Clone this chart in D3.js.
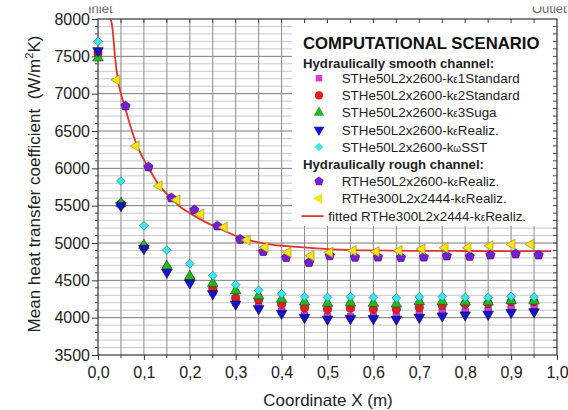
<!DOCTYPE html>
<html>
<head>
<meta charset="utf-8">
<script src="https://d3js.org/d3.v7.min.js"></script>
<style>
  html, body { margin: 0; padding: 0; background: #fff; }
  svg { display: block; font-family: "Liberation Sans", Arial, sans-serif; }
</style>
</head>
<body>
<svg id="chart" width="568" height="410"></svg>
<script>
// ---------------- data ----------------
const xTickValues = [0, 0.1, 0.2, 0.3, 0.4, 0.5, 0.6, 0.7, 0.8, 0.9, 1.0];
const xTickLabels = ["0,0", "0,1", "0,2", "0,3", "0,4", "0,5", "0,6", "0,7", "0,8", "0,9", "1,0"];
const yTickValues = [3500, 4000, 4500, 5000, 5500, 6000, 6500, 7000, 7500, 8000];

const xSmooth = [0, 0.05, 0.1, 0.15, 0.2, 0.25, 0.3, 0.35, 0.4, 0.45, 0.5, 0.55, 0.6, 0.65, 0.7, 0.75, 0.8, 0.85, 0.9, 0.95];
const kE1Standard = [7540, 5515, 4940, 4650, 4500, 4345, 4205, 4150, 4085, 4036, 4013, 4013, 4013, 4020, 4050, 4075, 4080, 4100, 4120, 4125];
const kE2Standard = [7545, 5522, 4950, 4660, 4515, 4393, 4263, 4240, 4183, 4134, 4112, 4125, 4112, 4112, 4139, 4165, 4183, 4190, 4215, 4215];
const kE3Suga     = [7478, 5530, 4968, 4688, 4553, 4460, 4359, 4292, 4248, 4210, 4192, 4201, 4192, 4183, 4215, 4215, 4210, 4210, 4228, 4223];
const kERealiz    = [7575, 5500, 4925, 4608, 4464, 4320, 4181, 4120, 4058, 4004, 3980, 3987, 3987, 3978, 4002, 4022, 4036, 4045, 4070, 4078];
const kwSST       = [7700, 5830, 5232, 4906, 4722, 4563, 4442, 4365, 4320, 4281, 4272, 4281, 4272, 4263, 4278, 4281, 4272, 4272, 4285, 4277];

const xRough50 = [0.06, 0.11, 0.16, 0.21, 0.26, 0.31, 0.36, 0.41, 0.46, 0.505, 0.56, 0.61, 0.66, 0.71, 0.76, 0.81, 0.855, 0.91, 0.96];
const rough50  = [6835, 6018, 5603, 5442, 5228, 5049, 4884, 4804, 4738, 4828, 4808, 4810, 4806, 4810, 4826, 4820, 4839, 4853, 4839];

const xRough300 = [0.041, 0.083, 0.133, 0.172, 0.224, 0.275, 0.325, 0.364, 0.414, 0.464, 0.505, 0.556, 0.606, 0.656, 0.706, 0.756, 0.806, 0.854, 0.902, 0.943];
const rough300  = [7183, 6299, 5763, 5576, 5388, 5210, 5040, 4942, 4875, 4830, 4875, 4897, 4884, 4897, 4918, 4937, 4937, 4962, 4982, 4982];

const xFit = [0.028, 0.032, 0.037, 0.043, 0.05, 0.06, 0.072, 0.084, 0.096, 0.109, 0.121, 0.133, 0.157, 0.179, 0.2, 0.222, 0.259, 0.309, 0.36, 0.44, 0.512, 0.6, 0.7, 0.8, 0.9, 0.987];
const fitVals = [8000, 7850, 7500, 7200, 7000, 6790, 6540, 6320, 6160, 6020, 5890, 5775, 5616, 5486, 5400, 5320, 5210, 5075, 4995, 4945, 4915, 4900, 4895, 4893, 4892, 4892];

const legendLabels = [
  ["STHe50L2x2600-k", "ε", "1Standard"],
  ["STHe50L2x2600-k", "ε", "2Standard"],
  ["STHe50L2x2600-k", "ε", "3Suga"],
  ["STHe50L2x2600-k", "ε", "Realiz."],
  ["STHe50L2x2600-k", "ω", "SST"],
  ["RTHe50L2x2600-k", "ε", "Realiz."],
  ["RTHe300L2x2444-k", "ε", "Realiz."],
  ["fitted RTHe300L2x2444-k", "ε", "Realiz."]
];

// ---------------- setup ----------------
const svg = d3.select("#chart");
const W = 568, H = 410;
const m = { left: 98, right: 11, top: 19, bottom: 55 };
const x = d3.scaleLinear().domain([0, 1]).range([m.left, W - m.right]);
const y = d3.scaleLinear().domain([3500, 8000]).range([H - m.bottom, m.top]);

const pentagon = {
  draw(ctx, size) {
    const r = Math.sqrt(size / 2.4);
    for (let i = 0; i < 5; i++) {
      const a = -Math.PI / 2 + i * 2 * Math.PI / 5;
      const px = r * Math.cos(a), py = r * Math.sin(a);
      if (i === 0) ctx.moveTo(px, py); else ctx.lineTo(px, py);
    }
    ctx.closePath();
  }
};
const series = [
  { xs: xSmooth, ys: kE1Standard, type: d3.symbolSquare, size: 42, rot: 0, fill: "#d63cd6", stroke: "#7a2a7a" },
  { xs: xSmooth, ys: kE2Standard, type: d3.symbolCircle, size: 52, rot: 0, fill: "#e31e1e", stroke: "#7a1a1a" },
  { xs: xSmooth, ys: kE3Suga, type: d3.symbolTriangle, size: 48, rot: 0, fill: "#22b822", stroke: "#1a5a1a" },
  { xs: xSmooth, ys: kERealiz, type: d3.symbolTriangle, size: 48, rot: 180, fill: "#1414c8", stroke: "#0a0a60" },
  { xs: xSmooth, ys: kwSST, type: d3.symbolSquare, size: 38, rot: 45, fill: "#3fe3ea", stroke: "#1f8f96" },
  { xs: xRough50, ys: rough50, type: pentagon, size: 56, rot: 0, fill: "#7420d2", stroke: "#3c1070" },
  { xs: xRough300, ys: rough300, type: d3.symbolTriangle, size: 46, rot: -90, fill: "#f3e61c", stroke: "#b08a10" }
];

// ---------------- grid ----------------
const grid = svg.append("g");
const minorY = d3.range(3600, 8000, 100).filter(v => v % 500 !== 0);
grid.selectAll("line.hmin").data(minorY).join("line")
  .attr("x1", m.left).attr("x2", W - m.right)
  .attr("y1", d => y(d)).attr("y2", d => y(d))
  .attr("stroke", "#c8c8c8").attr("stroke-width", 1);
grid.selectAll("line.hmaj").data(yTickValues.slice(1, -1)).join("line")
  .attr("x1", m.left).attr("x2", W - m.right)
  .attr("y1", d => y(d)).attr("y2", d => y(d))
  .attr("stroke", "#7a7a7a").attr("stroke-width", 1);
grid.selectAll("line.v").data(xSmooth.slice(1)).join("line")
  .attr("y1", m.top).attr("y2", H - m.bottom)
  .attr("x1", d => x(d)).attr("x2", d => x(d))
  .attr("stroke", "#8a8a8a").attr("stroke-width", 1);

// ---------------- legend background ----------------
svg.append("rect").attr("x", 292).attr("y", m.top + 1).attr("width", W - m.right - 292 - 1).attr("height", 206)
  .attr("fill", "#fff");

// ---------------- frame & axes ----------------
const frame = svg.append("g").attr("stroke", "#333").attr("stroke-width", 1.2).attr("fill", "none");
frame.append("rect").attr("x", m.left).attr("y", m.top).attr("width", W - m.left - m.right).attr("height", H - m.top - m.bottom);

const yAxisL = d3.axisLeft(y).tickValues(yTickValues).tickSize(6).tickFormat(d => d);
const gy = svg.append("g").attr("transform", `translate(${m.left},0)`).call(yAxisL);
gy.select(".domain").remove();
gy.selectAll("text").attr("font-size", 16).attr("fill", "#222").attr("x", -8);
gy.selectAll("line").attr("stroke", "#333");
svg.append("g").selectAll("line").data(minorY).join("line")
  .attr("x1", m.left - 3).attr("x2", m.left).attr("y1", d => y(d)).attr("y2", d => y(d)).attr("stroke", "#444");
svg.append("g").selectAll("line").data(d3.range(3600, 8000, 100)).join("line")
  .attr("x1", W - m.right - 4).attr("x2", W - m.right).attr("y1", d => y(d)).attr("y2", d => y(d)).attr("stroke", "#444");

const xAxisB = d3.axisBottom(x).tickValues(xTickValues).tickSize(5).tickFormat((d, i) => xTickLabels[i]);
const gx = svg.append("g").attr("transform", `translate(0,${H - m.bottom})`).call(xAxisB);
gx.select(".domain").remove();
gx.selectAll("text").attr("font-size", 16).attr("fill", "#222").attr("y", 12);
gx.selectAll("line").attr("stroke", "#333");
svg.append("g").selectAll("line").data(xSmooth.filter((d, i) => i % 2 === 1)).join("line")
  .attr("y1", H - m.bottom).attr("y2", H - m.bottom + 3).attr("x1", d => x(d)).attr("x2", d => x(d)).attr("stroke", "#444");
svg.append("g").selectAll("line").data(xSmooth.slice(1)).join("line")
  .attr("y1", m.top).attr("y2", m.top + 4).attr("x1", d => x(d)).attr("x2", d => x(d)).attr("stroke", "#444");

// ---------------- fitted curve ----------------
const fitLine = d3.line().x((d, i) => x(xFit[i])).y(d => y(d)).curve(d3.curveMonotoneX);
svg.append("path").attr("d", fitLine(fitVals)).attr("fill", "none").attr("stroke", "#e0342c").attr("stroke-width", 1.8);

// ---------------- markers ----------------
series.forEach(s => {
  const sym = d3.symbol().type(s.type).size(s.size);
  svg.append("g").selectAll("path").data(s.ys).join("path")
    .attr("d", sym)
    .attr("transform", (d, i) => `translate(${x(s.xs[i])},${y(d)}) rotate(${s.rot})`)
    .attr("fill", s.fill).attr("stroke", s.stroke).attr("stroke-width", 0.7);
});

// ---------------- legend ----------------
const lg = svg.append("g");
lg.append("text").attr("x", 303).attr("y", 48.5).attr("font-size", 16.7).attr("font-weight", "bold").attr("fill", "#111")
  .text("COMPUTATIONAL SCENARIO");
const rowY = i => 83 + i * 17.2;
lg.append("text").attr("x", 303).attr("y", 68).attr("font-size", 13.2).attr("font-weight", "bold").attr("fill", "#222")
  .text("Hydraulically smooth channel:");
lg.append("text").attr("x", 303).attr("y", rowY(5) - 0.5).attr("font-size", 13.2).attr("font-weight", "bold").attr("fill", "#222")
  .text("Hydraulically rough channel:");
const legendRows = [0, 1, 2, 3, 4, 6, 7];
series.forEach((s, k) => {
  const r = legendRows[k];
  const cy = rowY(r) - 4.8;
  const sym = d3.symbol().type(s.type).size(s.size);
  lg.append("path").attr("d", sym).attr("transform", `translate(319,${cy}) rotate(${s.rot})`)
    .attr("fill", s.fill).attr("stroke", "none");
  const lab = legendLabels[k];
  const t = lg.append("text").attr("x", 341.7).attr("y", rowY(r)).attr("font-size", 13.4).attr("fill", "#222");
  t.append("tspan").text(lab[0]);
  t.append("tspan").attr("font-size", 10).text(lab[1]);
  t.append("tspan").text(lab[2]);
});
lg.append("line").attr("x1", 301.5).attr("x2", 323.5).attr("y1", rowY(8) - 4.5).attr("y2", rowY(8) - 4.5)
  .attr("stroke", "#e0342c").attr("stroke-width", 1.8);
{
  const lab = legendLabels[7];
  const t = lg.append("text").attr("x", 328.3).attr("y", rowY(8)).attr("font-size", 13.4).attr("fill", "#222");
  t.append("tspan").text(lab[0]);
  t.append("tspan").attr("font-size", 10).text(lab[1]);
  t.append("tspan").text(lab[2]);
}

// ---------------- axis titles ----------------
svg.append("text").attr("x", 328).attr("y", 406).attr("text-anchor", "middle").attr("font-size", 17).attr("fill", "#222")
  .text("Coordinate X (m)");
const yl = svg.append("text").attr("transform", "translate(40,184) rotate(-90)").attr("text-anchor", "middle")
  .attr("font-size", 17).attr("fill", "#222");
yl.append("tspan").text("Mean heat transfer coefficient\u00a0\u00a0(W/m");
yl.append("tspan").attr("font-size", 11).attr("dy", -7).text("2");
yl.append("tspan").attr("dy", 7).text("K)");

// ---------------- cut-off header texts ----------------
svg.append("text").attr("x", 88).attr("y", 12.5).attr("font-size", 13).attr("fill", "#666").text("Inlet");
svg.append("text").attr("x", 532).attr("y", 12.5).attr("font-size", 13).attr("fill", "#666").text("Outlet");
svg.append("rect").attr("x", 0).attr("y", 0).attr("width", W).attr("height", 6.5).attr("fill", "#fff");
</script>
</body>
</html>
